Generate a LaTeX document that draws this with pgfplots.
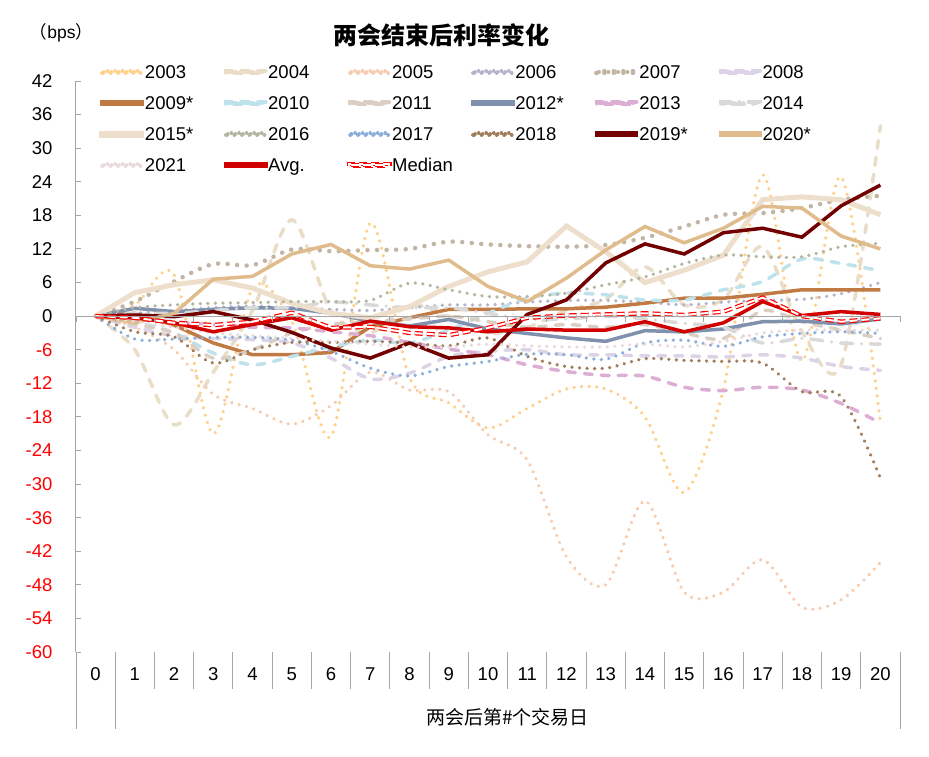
\documentclass[border=0pt]{standalone}
\usepackage{fontspec}
\setmainfont{Liberation Sans}
\newfontfamily\cjk{Noto Sans CJK SC}
\usepackage{pgfplots}
\usepackage{pgfplotstable}
\pgfplotsset{compat=1.18}

\definecolor{axgray}{HTML}{A6A6A6}
\definecolor{c03}{HTML}{FFD08A}
\definecolor{c04}{HTML}{E9DDC7}
\definecolor{c05}{HTML}{F7CBB0}
\definecolor{c06}{HTML}{B3B3CA}
\definecolor{c07}{HTML}{C3B5A3}
\definecolor{c08}{HTML}{DCD3E6}
\definecolor{c09}{HTML}{C27A44}
\definecolor{c10}{HTML}{BEE2EC}
\definecolor{c11}{HTML}{DBCFC3}
\definecolor{c12}{HTML}{8091AD}
\definecolor{c13}{HTML}{DDAED3}
\definecolor{c14}{HTML}{D9D9D9}
\definecolor{c15}{HTML}{EEDFCD}
\definecolor{c16}{HTML}{B4B59E}
\definecolor{c17}{HTML}{8CAEDB}
\definecolor{c18}{HTML}{A07D5B}
\definecolor{c19}{HTML}{720000}
\definecolor{c20}{HTML}{E0BC8D}
\definecolor{c21}{HTML}{E9DADB}
\definecolor{cavg}{HTML}{D00000}
\definecolor{cmed}{HTML}{FF0000}

\tikzset{
  dotS/.style={line width=3.6pt, line cap=round, dash pattern=on 0.05pt off 7.5pt},
  dotL/.style={line width=4.5pt, line cap=round, dash pattern=on 0.05pt off 9.5pt},
  dashS/.style={line width=3.5pt, line cap=round, dash pattern=on 8pt off 9pt},
  dashdotS/.style={line width=3.5pt, line cap=round, dash pattern=on 12pt off 9pt on 0.05pt off 9pt},
}

\newcommand{\LE}[1]{\makebox[79.6pt][l]{\hspace{0.5pt}#1}}

\pgfplotstableread{
x y03 y04 y05 y06 y07 y08 y09 y10 y11 y12 y13 y14 y15 y16 y17 y18 y19 y20 y21 avg med
0 0 0 0 0 0 0 0 0 0 0 0 0 0 0 0 0 0 0 0 0 0
1 2 -6 -2 0.5 2.6 -2 0.5 -1 -1.5 1.4 -0.5 0.5 4.2 1.5 -4.1 -2.8 0.2 -1.2 -1 -0.3 -0.3
2 7.4 -19.4 -6 1 6.2 -3.5 -1.6 -3 -3 0.8 -1.0 0.5 5.6 2.0 -4.1 -3.7 -0.1 0.5 -2 -1.2 -1.2
3 -21 -10 -14 1.5 9.3 -4 -4.8 -6.6 -7.5 1.2 -1.5 1 6.5 2.3 -3.8 -8.4 0.8 6.6 -3 -2.8 -1.6
4 5 1 -16.5 1.8 9.1 -4.2 -6.9 -8.7 -6 1.5 -2.0 1.5 5.0 2.4 -3.8 -6.0 -0.7 7.1 -3.5 -1.5 -1.0
5 -1 17.2 -19.3 1.5 11.9 -4.8 -6.9 -7.2 -3 1.4 -2.1 1.5 2.3 2.6 -4.3 -4.7 -2.9 11.1 -4 -0.3 0.6
6 -21.5 1 -16 1.2 11.6 -7.5 -6.5 -5.5 -1.5 0.5 -2.8 2.5 0.5 2.6 -6.3 -4.7 -5.7 12.8 -4.5 -2.5 -2.1
7 16.6 -3 -10 1.0 11.8 -11.2 -1.9 -4.3 -1 -0.9 -3.5 2.0 -0.3 2.8 -9.3 -4.5 -7.5 9.0 -5 -0.9 -1.9
8 -11 2 -13.2 1.5 12.0 -10.2 -0.3 -4.8 -0.5 -1.75 -4.7 1.5 1.7 5.9 -10.7 -4.8 -4.8 8.4 -5.5 -1.9 -3.0
9 -15.5 0 -13.5 2.0 13.3 -7.2 1.2 -2.5 0 -0.6 -5.9 1.5 5.3 4.7 -9.0 -5.3 -7.5 10.0 -5.5 -2.1 -3.4
10 -20 -3 -21.2 2.0 12.8 -6.3 1.2 0.5 -1 -2.3 -6.9 0.5 7.9 3.5 -8.1 -3.9 -6.9 5.3 -5 -2.8 -2.1
11 -16.5 -2 -25.7 2.5 12.5 -6.0 1.3 3.2 -2 -3.1 -8.7 -0.5 9.7 3.5 -6.8 -7.2 0.3 2.6 -5.3 -2.3 -0.3
12 -13 1 -43 2.8 12.4 -6.9 1.3 4.1 -1.5 -3.9 -9.9 -0.5 16.1 4.1 -6.9 -9.0 2.9 6.8 -5.5 -2.5 0.1
13 -13 3 -48 2.8 12.7 -6.9 1.6 3.8 -2 -4.5 -10.6 0 11.5 5.6 -7.7 -9.3 9.5 11.8 -5.5 -2.5 0.3
14 -18 8.8 -33 2.5 14.0 -7.1 2.3 2.9 -1.5 -2.6 -10.7 -0.5 6.0 7.0 -4.8 -7.6 12.9 16.0 -5 -1.0 0.5
15 -31.5 2 -49.3 2.0 16.0 -7.1 3.2 2.9 -3 -2.8 -12.7 -1.3 8.2 9.4 -4.3 -7.9 11.1 13.1 -5.5 -2.8 0.2
16 -13 3 -49.3 2.5 18.1 -7.3 3.2 4.7 -4 -2.3 -13.3 -2 10.9 10.9 -5.4 -8.1 14.9 15.7 -4.5 -1.2 0.8
17 25.2 12.4 -43.5 2.8 18.4 -6.9 3.9 6.2 1 -1.0 -12.7 -4.8 20.8 10.6 -3.7 -8.4 15.7 19.6 -3 2.6 3.3
18 -8 -2.8 -52 3.0 19.3 -7.5 4.7 10.2 -1 -0.9 -13.2 -4 21.3 10.6 -3.1 -13.5 14.1 19.3 -2.5 0.1 0
19 24.9 -8.7 -50.7 4.0 20.8 -9.0 4.7 9.4 -2.5 -1.4 -15.6 -4.8 20.8 12.4 -2.8 -14.4 19.7 14.3 -2.5 0.8 -1.0
20 -19 34 -44 6.0 21.5 -9.7 4.7 8.1 -4 -0.5 -19.1 -5 18.1 13.0 -3.1 -28.9 23.4 12.0 -2.5 0.3 -0.4
}\data

\begin{document}
\begin{tikzpicture}
\path[use as bounding box] (0pt,0pt) rectangle (929pt,756pt);
\begin{axis}[
  at={(76pt,104pt)}, anchor=south west,
  scale only axis, width=824pt, height=571pt,
  xmin=-0.5, xmax=20.5, ymin=-60, ymax=42,
  axis x line*=bottom, axis y line*=left,
  x axis line style={draw=none},
  y axis line style={draw=axgray, line width=1pt, -},
  xtick={0,...,20}, xtick style={draw=none},
  xticklabel style={yshift=-12pt},
  ytick={-60,-54,...,42},
  ytick style={draw=axgray, line width=1pt},
  tick align=inside, major tick length=5pt,
  yticklabel style={xshift=-20pt},
  yticklabel={\pgfmathparse{\tick}\ifdim\pgfmathresult pt<0pt\relax\color{red}\fi\pgfmathprintnumber{\tick}},
  /pgf/number format/assume math mode=true,
  font=\fontsize{18.5}{22}\selectfont,
  no markers,
  legend columns=6,
  legend style={at={(0.0285,1.0273)}, anchor=north west, draw=none, fill=none,
    inner sep=0pt, outer sep=0pt, font=\fontsize{18.5}{22}\selectfont,
    nodes={inner sep=0pt, text height=13.2pt, text depth=0pt},
    row sep=17.8pt, column sep=0pt},
  legend cell align=left,
  legend image code/.code={\path[use as bounding box] (0pt,-1pt) rectangle (40pt,1pt); \draw[#1] (2pt,0pt) -- (36.5pt,0pt);},
]
\addplot[c03, dotS, smooth] table[x=x,y=y03] {\data}; \addlegendentry{\LE{2003}}
\addplot[c04, dashS, smooth] table[x=x,y=y04] {\data}; \addlegendentry{\LE{2004}}
\addplot[c05, dotS, smooth] table[x=x,y=y05] {\data}; \addlegendentry{\LE{2005}}
\addplot[c06, dotS, smooth] table[x=x,y=y06] {\data}; \addlegendentry{\LE{2006}}
\addplot[c07, dotL, smooth] table[x=x,y=y07] {\data}; \addlegendentry{\LE{2007}}
\addplot[c08, dashS, smooth] table[x=x,y=y08] {\data}; \addlegendentry{\LE{2008}}
\addplot[c09, line width=3.5pt] table[x=x,y=y09] {\data}; \addlegendentry{\LE{2009*}}
\addplot[c10, dashS, smooth] table[x=x,y=y10] {\data}; \addlegendentry{\LE{2010}}
\addplot[c11, dashS, smooth] table[x=x,y=y11] {\data}; \addlegendentry{\LE{2011}}
\addplot[c12, line width=3.5pt] table[x=x,y=y12] {\data}; \addlegendentry{\LE{2012*}}
\addplot[c13, dashS, smooth] table[x=x,y=y13] {\data}; \addlegendentry{\LE{2013}}
\addplot[c14, dashdotS, smooth] table[x=x,y=y14] {\data}; \addlegendentry{\LE{2014}}
\addplot[c15, line width=5pt] table[x=x,y=y15] {\data}; \addlegendentry{\LE{2015*}}
\addplot[c16, dotS, smooth] table[x=x,y=y16] {\data}; \addlegendentry{\LE{2016}}
\addplot[c17, dotS, smooth] table[x=x,y=y17] {\data}; \addlegendentry{\LE{2017}}
\addplot[c18, dotS, smooth] table[x=x,y=y18] {\data}; \addlegendentry{\LE{2018}}
\addplot[c19, line width=3.5pt] table[x=x,y=y19] {\data}; \addlegendentry{\LE{2019*}}
\addplot[c20, line width=3.5pt] table[x=x,y=y20] {\data}; \addlegendentry{\LE{2020*}}
\addplot[c21, dotS, smooth] table[x=x,y=y21] {\data}; \addlegendentry{\LE{2021}}
\addplot[cavg, line width=3.5pt] table[x=x,y=avg] {\data}; \addlegendentry{\LE{Avg.}}
\addplot[cmed, line width=1.2pt, double=white, double distance=2pt, dash pattern=on 8pt off 4pt] table[x=x,y=med] {\data}; \addlegendentry{\LE{Median}}
\end{axis}
% axis decorations
\draw[axgray, line width=1pt] (76pt,104pt) -- (76pt,27pt);
\draw[axgray, line width=1pt] (76pt,439.88pt) -- (900pt,439.88pt);
\foreach \k in {0,...,21} {
  \draw[axgray, line width=1pt] ({76pt+\k*39.238pt},439.88pt) -- ++(0pt,-6pt);
}
\foreach \k in {2,...,20} {
  \draw[axgray, line width=1pt] ({76pt+\k*39.238pt},104pt) -- ++(0pt,-37pt);
}
\draw[axgray, line width=1pt] (115.238pt,104pt) -- (115.238pt,27pt);
\draw[axgray, line width=1pt] (900pt,104pt) -- (900pt,27pt);
% texts
\node[font=\cjk\bfseries\fontsize{24}{27}\selectfont] at (441pt,721pt) {两会结束后利率变化};
\node[font=\fontsize{17.5}{20}\selectfont] at (61.5pt,723pt) {{\cjk （}bps{\cjk ）}};
\node[font=\cjk\fontsize{19}{22}\selectfont] at (507.5pt,39pt) {两会后第\#个交易日};
\end{tikzpicture}
\end{document}
